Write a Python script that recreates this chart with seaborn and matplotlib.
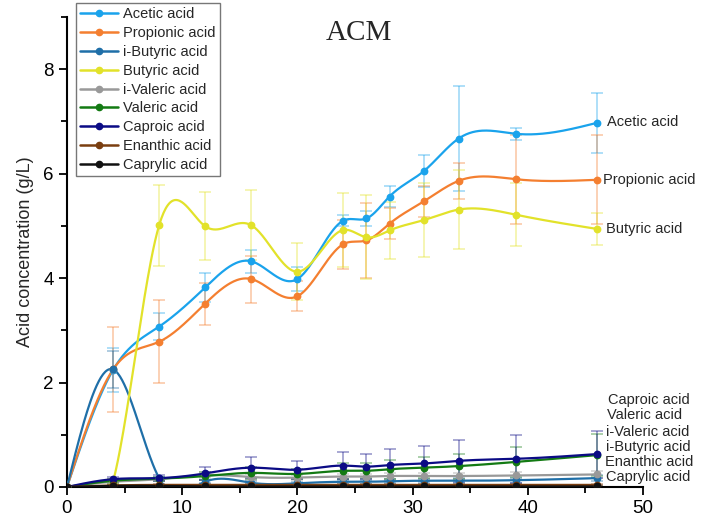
import numpy as np
import pandas as pd
import matplotlib
matplotlib.use("Agg")
import matplotlib.pyplot as plt
from matplotlib.lines import Line2D
from matplotlib.ticker import MultipleLocator
import seaborn as sns

# ---------------------------------------------------------------------------
# data
# ---------------------------------------------------------------------------
time_d = [0, 4, 8, 12, 16, 20, 24, 26, 28, 31, 34, 39, 46]

acids = ["Acetic acid", "Propionic acid", "i-Butyric acid", "Butyric acid",
         "i-Valeric acid", "Valeric acid", "Caproic acid", "Enanthic acid",
         "Caprylic acid"]

acetic = [0, 2.24, 3.07, 3.82, 4.32, 3.98, 5.10, 5.14, 5.56, 6.05, 6.67, 6.76, 6.97]
acetic_err = [0, 0.42, 0.26, 0.28, 0.22, 0.23, 0.10, 0.15, 0.21, 0.31, 1.00, 0.12, 0.58]

propionic = [0, 2.25, 2.78, 3.51, 3.98, 3.65, 4.65, 4.72, 5.04, 5.47, 5.86, 5.89, 5.88]
propionic_err = [0, 0.82, 0.79, 0.40, 0.45, 0.29, 0.47, 0.72, 0.30, 0.30, 0.35, 0.85, 0.85]

i_butyric = [0, 2.25, 0.17, 0.10, 0.08, 0.07, 0.10, 0.10, 0.11, 0.12, 0.12, 0.13, 0.17]
i_butyric_err = [0, 0.35, 0.03, 0.03, 0.03, 0.03, 0.04, 0.04, 0.04, 0.04, 0.05, 0.05, 0.05]

butyric = [0, 0.10, 5.01, 4.99, 5.01, 4.12, 4.92, 4.78, 4.91, 5.11, 5.31, 5.21, 4.94]
butyric_err = [0, 0.05, 0.78, 0.65, 0.67, 0.55, 0.70, 0.80, 0.55, 0.70, 0.75, 0.60, 0.30]

i_valeric = [0, 0.10, 0.15, 0.23, 0.19, 0.18, 0.20, 0.20, 0.21, 0.21, 0.21, 0.22, 0.24]
i_valeric_err = [0, 0.03, 0.03, 0.05, 0.05, 0.05, 0.05, 0.05, 0.05, 0.05, 0.06, 0.06, 0.06]

valeric = [0, 0.12, 0.16, 0.21, 0.27, 0.25, 0.31, 0.31, 0.34, 0.37, 0.40, 0.48, 0.61]
valeric_err = [0, 0.04, 0.04, 0.08, 0.12, 0.10, 0.15, 0.14, 0.18, 0.20, 0.24, 0.28, 0.40]

caproic = [0, 0.15, 0.17, 0.26, 0.37, 0.33, 0.41, 0.39, 0.42, 0.45, 0.50, 0.54, 0.63]
caproic_err = [0, 0.05, 0.05, 0.12, 0.20, 0.17, 0.26, 0.24, 0.30, 0.34, 0.40, 0.46, 0.45]

enanthic = [0, 0.03, 0.04, 0.04, 0.04, 0.04, 0.04, 0.04, 0.04, 0.04, 0.04, 0.04, 0.04]
enanthic_err = [0, 0.01, 0.01, 0.01, 0.01, 0.01, 0.01, 0.01, 0.01, 0.01, 0.01, 0.01, 0.01]

caprylic = [0, 0.02, 0.02, 0.01, 0.01, 0.01, 0.01, 0.01, 0.01, 0.01, 0.01, 0.01, 0.01]
caprylic_err = [0, 0.01, 0.01, 0.01, 0.01, 0.01, 0.01, 0.01, 0.01, 0.01, 0.01, 0.01, 0.01]

values = [acetic, propionic, i_butyric, butyric, i_valeric, valeric,
          caproic, enanthic, caprylic]
errors = [acetic_err, propionic_err, i_butyric_err, butyric_err, i_valeric_err,
          valeric_err, caproic_err, enanthic_err, caprylic_err]

colors = ["#1AA3EC", "#F47F30", "#1F6FA8", "#E2E22A", "#999999",
          "#137A13", "#0B0B85", "#7A3E10", "#111111"]
palette = dict(zip(acids, colors))

# end-of-line labels: (label, x, y) in data units
top_labels = [("Acetic acid", 46.9, 6.99), ("Propionic acid", 46.5, 5.88),
              ("Butyric acid", 46.8, 4.94)]
bottom_labels = [("Caproic acid", 47.0, 1.67), ("Valeric acid", 46.9, 1.37),
                 ("i-Valeric acid", 46.8, 1.06), ("i-Butyric acid", 46.8, 0.77),
                 ("Enanthic acid", 46.7, 0.48), ("Caprylic acid", 46.8, 0.20)]


def natural_spline(x, y, n=500):
    """Natural cubic spline through the points, like Origin's spline connect."""
    x = np.asarray(x, float)
    y = np.asarray(y, float)
    k = len(x)
    h = np.diff(x)
    A = np.zeros((k, k))
    b = np.zeros(k)
    A[0, 0] = A[-1, -1] = 1
    for i in range(1, k - 1):
        A[i, i - 1] = h[i - 1]
        A[i, i] = 2 * (h[i - 1] + h[i])
        A[i, i + 1] = h[i]
        b[i] = 6 * ((y[i + 1] - y[i]) / h[i] - (y[i] - y[i - 1]) / h[i - 1])
    M = np.linalg.solve(A, b)
    xs = np.linspace(x[0], x[-1], n)
    idx = np.clip(np.searchsorted(x, xs) - 1, 0, k - 2)
    x0, x1 = x[idx], x[idx + 1]
    hh = x1 - x0
    ys = (M[idx] * (x1 - xs) ** 3 / (6 * hh) + M[idx + 1] * (xs - x0) ** 3 / (6 * hh)
          + (y[idx] / hh - M[idx] * hh / 6) * (x1 - xs)
          + (y[idx + 1] / hh - M[idx + 1] * hh / 6) * (xs - x0))
    return xs, ys


frames = []
for name, vals in zip(acids, values):
    xs, ys = natural_spline(time_d, vals)
    frames.append(pd.DataFrame({"time": xs, "conc": ys, "acid": name}))
smooth = pd.concat(frames, ignore_index=True)

# ---------------------------------------------------------------------------
# plot
# ---------------------------------------------------------------------------
sns.set_style("ticks")
plt.rcParams["font.family"] = ["Liberation Sans", "DejaVu Sans"]

fig = plt.figure(figsize=(7.02, 5.25), dpi=100)
ax = fig.add_axes([0.0954, 0.0724, 0.8205, 0.8956])

for name, vals, err in zip(acids, values, errors):
    c = palette[name]
    ax.errorbar(time_d, vals, yerr=err, fmt="none", ecolor=c, alpha=0.45,
                elinewidth=1.1, capsize=4, capthick=1.1, zorder=2)

sns.lineplot(data=smooth, x="time", y="conc", hue="acid", palette=palette,
             hue_order=acids, linewidth=1.6, legend=False, ax=ax, zorder=3)

for name, vals in zip(acids, values):
    ax.plot(time_d, vals, "o", color=palette[name], markersize=4.6, zorder=4)

ax.set_xlim(0, 50)
ax.set_ylim(0, 9)
ax.xaxis.set_major_locator(MultipleLocator(10))
ax.xaxis.set_minor_locator(MultipleLocator(5))
ax.yaxis.set_major_locator(MultipleLocator(2))
ax.yaxis.set_minor_locator(MultipleLocator(1))
ax.tick_params(which="major", direction="out", length=6, width=1.3,
               labelsize=13.5, color="black", labelcolor="black")
ax.tick_params(which="minor", direction="out", length=4, width=1.3, color="black")
sns.despine(ax=ax)
for side in ["left", "bottom"]:
    ax.spines[side].set_linewidth(1.5)
    ax.spines[side].set_color("black")
ax.set_xlabel("")
ax.set_ylabel("Acid concentration (g/L)", fontsize=13, labelpad=7)

ax.text(0.507, 0.965, "ACM", transform=ax.transAxes, ha="center", va="center",
        fontsize=21, family=["Liberation Serif", "DejaVu Serif"])

for label, x, y in top_labels + bottom_labels:
    ax.text(x, y, label, ha="left", va="center", fontsize=10.5, clip_on=False)

handles = [Line2D([0], [0], color=palette[a], lw=1.8, marker="o", markersize=4.5)
           for a in acids]
leg = fig.legend(handles, acids, loc="upper left",
                 bbox_to_anchor=(76 / 702, 1 - 3 / 525), fontsize=10.5,
                 frameon=True, fancybox=False, edgecolor="#777777",
                 framealpha=1, handlelength=2.6, handletextpad=0.3,
                 labelspacing=0.33, borderpad=0.3, borderaxespad=0)
leg.get_frame().set_linewidth(1.0)

fig.savefig("out.png", dpi=100)
